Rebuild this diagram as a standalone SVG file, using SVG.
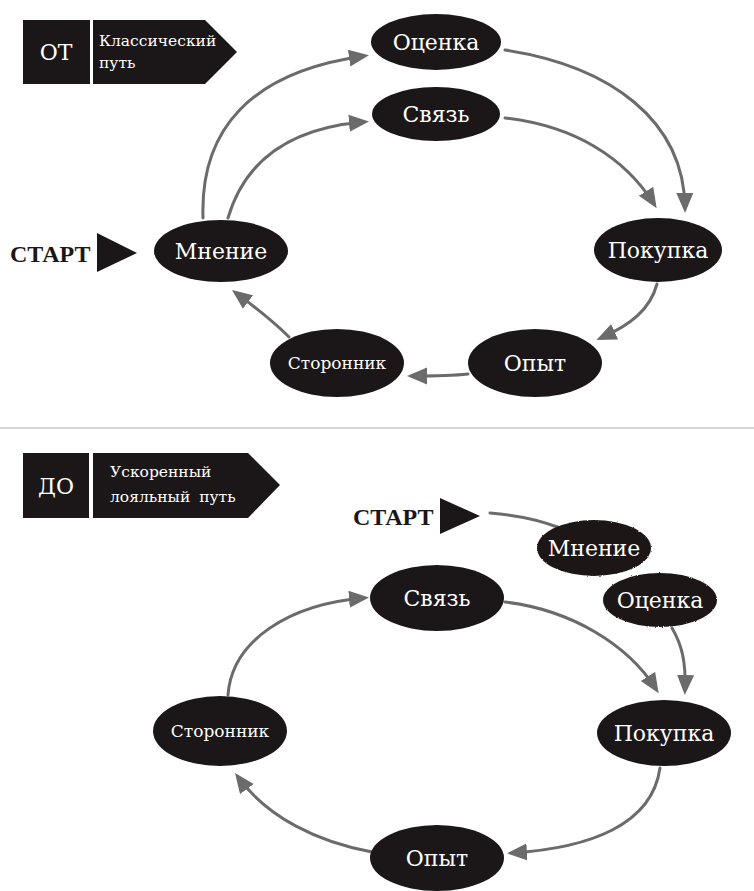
<svg xmlns="http://www.w3.org/2000/svg" width="754" height="891" viewBox="0 0 754 891">
<style>
.node{fill:#1b1718}
.lbl{fill:#ffffff;font-family:"DejaVu Serif","Liberation Serif",serif;font-size:22px;text-anchor:middle}
.small{font-size:17px}
.hdr{fill:#ffffff;font-family:"DejaVu Serif","Liberation Serif",serif}
.start{fill:#1b1718;font-family:"Liberation Serif","DejaVu Serif",serif;font-weight:bold;font-size:24px}
.con{fill:none;stroke:#6b6b6b;stroke-width:3;stroke-linecap:round}
.arr{marker-end:url(#ah)}
</style>
<defs>
<marker id="ah" markerUnits="userSpaceOnUse" markerWidth="21" markerHeight="18" refX="15" refY="8.5" orient="auto">
<path d="M0,0 L20,8.5 L0,17 z" fill="#6b6b6b"/>
</marker>
<filter id="rough" x="-10%" y="-10%" width="120%" height="120%">
<feTurbulence type="fractalNoise" baseFrequency="0.8" numOctaves="1" seed="4" result="n"/>
<feDisplacementMap in="SourceGraphic" in2="n" scale="2.5" xChannelSelector="R" yChannelSelector="G"/>
</filter>
</defs>
<rect width="754" height="891" fill="#ffffff"/>

<!-- Header top -->
<g id="hdr-top">
<rect x="23" y="20" width="67" height="64" fill="#1b1718"/>
<path d="M93,20 H205 L237,52 L205,84 H93 z" fill="#1b1718"/>
<text class="hdr" x="56" y="60" font-size="22" text-anchor="middle">ОТ</text>
<text class="hdr" x="99" y="46" font-size="15.5">Классический</text>
<text class="hdr" x="99" y="68" font-size="15.5">путь</text>
</g>

<!-- Header bottom -->
<g id="hdr-bottom">
<rect x="23" y="453" width="66" height="65" fill="#1b1718"/>
<path d="M93,453 H248 L280,485 L248,518 H93 z" fill="#1b1718"/>
<text class="hdr" x="56" y="494" font-size="22" text-anchor="middle">ДО</text>
<text class="hdr" x="110" y="477" font-size="15.5">Ускоренный</text>
<text class="hdr" x="110" y="502" font-size="15.5" word-spacing="4">лояльный путь</text>
</g>

<line x1="0" y1="428" x2="754" y2="428" stroke="#c8c8c8" stroke-width="1.5"/>

<!-- Connectors -->
<g id="connectors">
<path class="con arr" d="M203,218 C200,130 250,72 364,56"/>
<path class="con arr" d="M228,218 C245,160 290,128 364,122"/>
<path class="con arr" d="M505,50 C610,66 684,120 685,208"/>
<path class="con arr" d="M505,118 C575,126 625,158 654,204"/>
<path class="con arr" d="M657,284 C650,310 630,325 601,338"/>
<path class="con arr" d="M468,374 C450,376 430,376 412,376"/>
<path class="con arr" d="M289,337 C270,318 252,305 236,293"/>

<path class="con" d="M490,513 C515,515 540,520 560,528"/>
<path class="con arr" d="M672,628 C682,645 686,662 685,690"/>
<path class="con arr" d="M505,602 C572,610 628,645 656,689"/>
<path class="con arr" d="M660,768 C652,825 590,848 512,853"/>
<path class="con arr" d="M372,852 C318,842 268,818 238,777"/>
<path class="con arr" d="M228,695 C232,640 290,604 364,598"/>
</g>

<!-- Top nodes -->
<g id="start-top">
<text class="start" x="10" y="262">СТАРТ</text>
<path d="M97,233 L137,253 L97,272 z" fill="#1b1718"/>
</g>
<g id="t-otsenka"><ellipse class="node" cx="436" cy="42" rx="65" ry="28"/><text class="lbl" x="436" y="42" dy="0.35em">Оценка</text></g>
<g id="t-svyaz"><ellipse class="node" cx="436" cy="114" rx="64" ry="27"/><text class="lbl" x="436" y="114" dy="0.35em">Связь</text></g>
<g id="t-mnenie"><ellipse class="node" cx="221" cy="251" rx="67" ry="31"/><text class="lbl" x="221" y="251" dy="0.35em">Мнение</text></g>
<g id="t-pokupka"><ellipse class="node" cx="658" cy="250" rx="64" ry="32"/><text class="lbl" x="658" y="250" dy="0.35em">Покупка</text></g>
<g id="t-opyt"><ellipse class="node" cx="535" cy="363" rx="67" ry="34"/><text class="lbl" x="535" y="363" dy="0.35em">Опыт</text></g>
<g id="t-storonnik"><ellipse class="node" cx="337" cy="363" rx="67" ry="34"/><text class="lbl small" x="337" y="363" dy="0.35em">Сторонник</text></g>

<!-- Bottom nodes -->
<g id="start-bottom">
<text class="start" x="353" y="525">СТАРТ</text>
<path d="M440,498 L480,516 L440,534 z" fill="#1b1718"/>
</g>
<g id="b-mnenie"><ellipse class="node" cx="594" cy="548" rx="57" ry="28" filter="url(#rough)"/><text class="lbl" x="594" y="548" dy="0.35em">Мнение</text></g>
<g id="b-otsenka"><ellipse class="node" cx="660" cy="600" rx="57" ry="27" filter="url(#rough)"/><text class="lbl" x="660" y="600" dy="0.35em">Оценка</text></g>
<g id="b-svyaz"><ellipse class="node" cx="437" cy="598" rx="67" ry="33"/><text class="lbl" x="437" y="598" dy="0.35em">Связь</text></g>
<g id="b-pokupka"><ellipse class="node" cx="664" cy="733" rx="67" ry="33"/><text class="lbl" x="664" y="733" dy="0.35em">Покупка</text></g>
<g id="b-opyt"><ellipse class="node" cx="437" cy="858" rx="67" ry="33"/><text class="lbl" x="437" y="858" dy="0.35em">Опыт</text></g>
<g id="b-storonnik"><ellipse class="node" cx="220" cy="731" rx="67" ry="35"/><text class="lbl small" x="220" y="731" dy="0.35em">Сторонник</text></g>
</svg>
